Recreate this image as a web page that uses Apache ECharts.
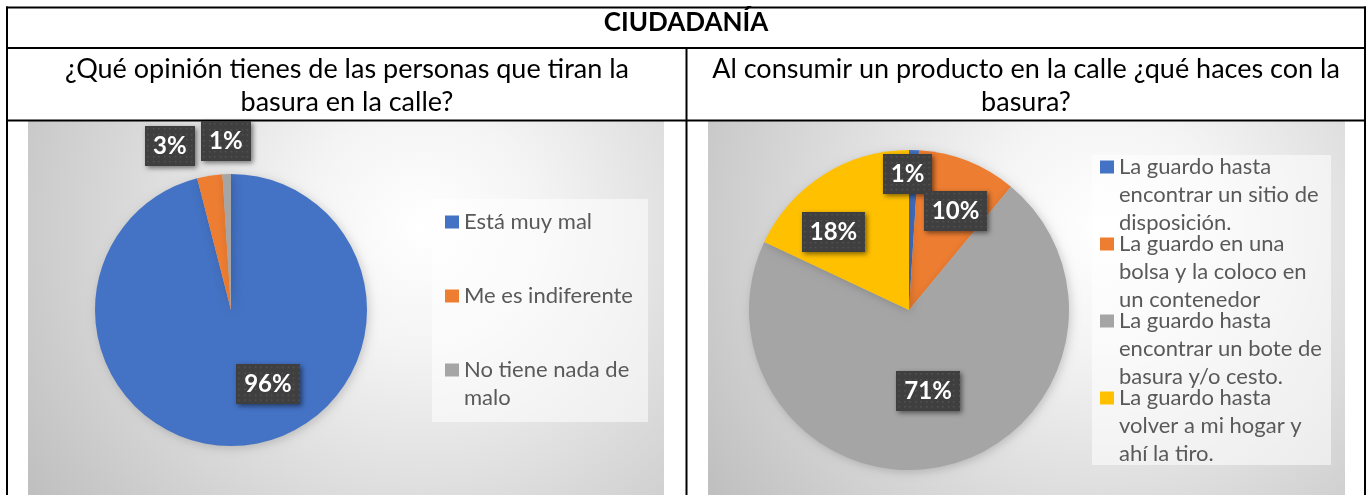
<!DOCTYPE html>
<html>
<head>
<meta charset="utf-8">
<script src="https://cdn.jsdelivr.net/npm/echarts@6/dist/echarts.min.js"></script>
<style>
  html, body { margin: 0; padding: 0; background: #ffffff; }
  #chart { width: 1368px; height: 495px; }
</style>
</head>
<body>
<div id="chart"></div>
<script>
// ---- Table texts ----
const tableTitle = 'CIUDADANÍA';
const questionLeft = ['¿Qué opinión tienes de las personas que tiran la', 'basura en la calle?'];
const questionRight = ['Al consumir un producto en la calle ¿qué haces con la', 'basura?'];

// ---- Left pie: opinion about people who litter ----
const opinionCategories = ['Está muy mal', 'Me es indiferente', 'No tiene nada de malo'];
const opinionValues = [96, 3, 1];
const opinionLegendLines = [['Está muy mal'], ['Me es indiferente'], ['No tiene nada de', 'malo']];

// ---- Right pie: what people do with their trash in the street ----
const wasteCategories = [
  'La guardo hasta encontrar un sitio de disposición.',
  'La guardo en una bolsa y la coloco en un contenedor',
  'La guardo hasta encontrar un bote de basura y/o cesto.',
  'La guardo hasta volver a mi hogar y ahí la tiro.'
];
const wasteValues = [1, 10, 71, 18];
const wasteLegendLines = [
  ['La guardo hasta', 'encontrar un sitio de', 'disposición.'],
  ['La guardo en una', 'bolsa y la coloco en', 'un contenedor'],
  ['La guardo hasta', 'encontrar un bote de', 'basura y/o cesto.'],
  ['La guardo hasta', 'volver a mi hogar y', 'ahí la tiro.']
];

const sliceColors = ['#4472C4', '#ED7D31', '#A5A5A5', '#FFC000'];

// ---- Styling constants ----
const FONT = 'Lato';
const LABEL_SIZE = 24;
const LABEL_PAD_X = 8;
const LABEL_PAD_Y = 8;
const LEGEND_SIZE = 22;
const LEGEND_LINE = 28;
const MARK_W = 14;
const MARK_H = 13;

// label nudges (from the default inside position) per slice
const opinionLabelShift = [[28, 4], [-50, -94], [-3, -98]];
const wasteLabelShift = [[-4, -53], [16, -22], [1, 0], [-31, -8]];

// dark dotted panel behind each data label
function dottedPanel(text) {
  const c = document.createElement('canvas');
  const ctx = c.getContext('2d');
  ctx.font = 'bold ' + LABEL_SIZE + 'px ' + FONT;
  const w = Math.round(ctx.measureText(text).width) + 2 * LABEL_PAD_X;
  const h = LABEL_SIZE + 2 * LABEL_PAD_Y;
  c.width = w; c.height = h;
  ctx.fillStyle = '#3f3f3f';
  ctx.fillRect(0, 0, w, h);
  ctx.fillStyle = 'rgba(255,255,255,0.12)';
  for (let y = 2; y < h; y += 5.5) {
    for (let x = 2; x < w; x += 5.5) ctx.fillRect(Math.round(x), Math.round(y), 1.5, 1.5);
  }
  return c;
}

function pieData(names, values) {
  const total = values.reduce((a, b) => a + b, 0);
  return names.map((name, i) => ({
    name: name,
    value: values[i],
    itemStyle: { color: sliceColors[i] },
    label: { backgroundColor: { image: dottedPanel(Math.round(values[i] / total * 100) + '%') } }
  }));
}

// Legend icon: a square placed at height cy inside a MARK_W x h box
// (two hair-thin corner specks fix the path's extent to the full box).
function markerPath(cy, h) {
  const t = cy - MARK_H / 2;
  return 'path://M0,' + t + 'h' + MARK_W + 'v' + MARK_H + 'h-' + MARK_W + 'z' +
    'M0,0h0.01v0.01h-0.01z' +
    'M' + (MARK_W - 0.01) + ',' + (h - 0.01) + 'h0.01v0.01h-0.01z';
}

// Vertical legend where the marker sits beside the first text line of each entry.
function makeLegend(names, lines, left, firstLineY, step) {
  const counts = lines.map(l => l.length);
  const maxN = Math.max.apply(null, counts);
  const mixed = counts.some(n => n !== maxN);
  const H = maxN * LEGEND_LINE;
  // when entries differ in line count, pad their text boxes so every entry
  // keeps the same distance between its first line and its top edge
  const pad = mixed ? H / 2 - LEGEND_LINE / 2 : 0;
  const lookup = {};
  names.forEach((n, i) => { lookup[n] = lines[i].join('\n'); });
  const data = names.map((name, i) => {
    const n = counts[i];
    const item = { name: name, icon: markerPath(H / 2 - (n - 1) * LEGEND_LINE / 2, H) };
    if (pad) item.textStyle = { padding: [pad, 0, pad, 0], backgroundColor: 'rgba(255,255,255,0)' };
    return item;
  });
  const firstOffset = mixed ? H / 2 : H / 2 - (counts[0] - 1) * LEGEND_LINE / 2;
  const gap = mixed ? step - H - (counts[0] - 1) * LEGEND_LINE : step - H;
  return {
    data: data,
    orient: 'vertical',
    left: left,
    top: firstLineY - firstOffset,
    padding: 0,
    itemGap: gap,
    itemWidth: MARK_W,
    itemHeight: H,
    symbolKeepAspect: false,
    selectedMode: false,
    formatter: name => lookup[name],
    textStyle: {
      fontFamily: FONT,
      fontSize: LEGEND_SIZE,
      color: '#595959',
      lineHeight: LEGEND_LINE
    }
  };
}

const labelStyle = {
  show: true,
  position: 'inside',
  formatter: '{d}%',
  color: '#ffffff',
  fontFamily: FONT,
  fontWeight: 'bold',
  fontSize: LABEL_SIZE,
  padding: [LABEL_PAD_Y, LABEL_PAD_X],
  shadowBlur: 5,
  shadowOffsetX: 2,
  shadowOffsetY: 2,
  shadowColor: 'rgba(0,0,0,0.5)'
};

function chartBackground(x, w) {
  return {
    type: 'rect',
    shape: { x: x, y: 121, width: w, height: 380 },
    style: {
      fill: {
        type: 'radial', x: 0.62, y: 0.28, r: 1.25,
        colorStops: [
          { offset: 0, color: '#ffffff' },
          { offset: 0.25, color: '#f4f4f4' },
          { offset: 1, color: '#bfbfbf' }
        ]
      }
    }
  };
}

function hLine(y) {
  return { type: 'line', shape: { x1: 6, y1: y, x2: 1366, y2: y }, style: { stroke: '#000', lineWidth: 2 } };
}
function vLine(x, y1) {
  return { type: 'line', shape: { x1: x, y1: y1, x2: x, y2: 500 }, style: { stroke: '#000', lineWidth: 2 } };
}
function headerText(lines, cx) {
  return {
    type: 'text',
    style: {
      text: lines.join('\n'), x: cx, y: 86, align: 'center', verticalAlign: 'middle',
      fontFamily: FONT, fontSize: 27, lineHeight: 33, fill: '#000'
    }
  };
}

const chart = echarts.init(document.getElementById('chart'), null, { renderer: 'canvas' });
chart.setOption({
  animation: false,
  backgroundColor: '#ffffff',
  graphic: [
    chartBackground(28, 636),
    chartBackground(708, 637),
    { type: 'rect', shape: { x: 432, y: 199, width: 216, height: 223 }, style: { fill: 'rgba(255,255,255,0.55)' } },
    { type: 'rect', shape: { x: 1092, y: 155, width: 239, height: 310 }, style: { fill: 'rgba(255,255,255,0.55)' } },
    hLine(7.5), hLine(48), hLine(120.5),
    vLine(7, 6.5), vLine(686.5, 48), vLine(1365, 6.5),
    {
      type: 'text',
      style: {
        text: tableTitle, x: 686, y: 23, align: 'center', verticalAlign: 'middle',
        fontFamily: FONT, fontWeight: 'bold', fontSize: 26, fill: '#000'
      }
    },
    headerText(questionLeft, 347),
    headerText(questionRight, 1026)
  ],
  legend: [
    makeLegend(opinionCategories, opinionLegendLines, 445, 222, 74),
    makeLegend(wasteCategories, wasteLegendLines, 1100, 167, 77)
  ],
  series: [
    {
      type: 'pie',
      center: [231, 310],
      radius: 136,
      startAngle: 90,
      clockwise: true,
      minShowLabelAngle: 0,
      label: labelStyle,
      labelLine: { show: false },
      labelLayout: p => ({ dx: opinionLabelShift[p.dataIndex][0], dy: opinionLabelShift[p.dataIndex][1] }),
      itemStyle: { shadowBlur: 10, shadowColor: 'rgba(0,0,0,0.18)', shadowOffsetX: 2, shadowOffsetY: 2 },
      emphasis: { disabled: true },
      data: pieData(opinionCategories, opinionValues)
    },
    {
      type: 'pie',
      center: [909, 310],
      radius: 160,
      startAngle: 90,
      clockwise: true,
      minShowLabelAngle: 0,
      label: labelStyle,
      labelLine: { show: false },
      labelLayout: p => ({ dx: wasteLabelShift[p.dataIndex][0], dy: wasteLabelShift[p.dataIndex][1] }),
      itemStyle: { shadowBlur: 10, shadowColor: 'rgba(0,0,0,0.18)', shadowOffsetX: 2, shadowOffsetY: 2 },
      emphasis: { disabled: true },
      data: pieData(wasteCategories, wasteValues)
    }
  ]
});
</script>
</body>
</html>
